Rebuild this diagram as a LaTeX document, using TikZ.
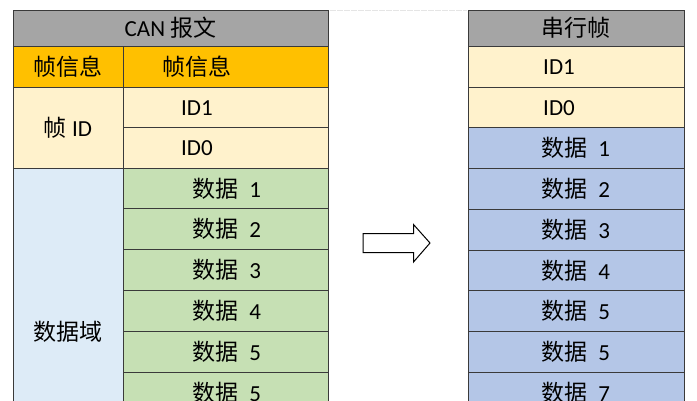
\documentclass[tikz,border=0pt]{standalone}
\usepackage{fontspec}
\setmainfont{Carlito}
\newfontfamily\cjk{Noto Sans CJK SC}
\definecolor{hdr}{HTML}{A5A5A5}
\definecolor{org}{HTML}{FFC000}
\definecolor{lyel}{HTML}{FFF2CC}
\definecolor{lblue}{HTML}{DDEBF7}
\definecolor{lgreen}{HTML}{C6E0B4}
\definecolor{mblue}{HTML}{B4C6E7}
\definecolor{edge}{HTML}{3A3A3A}
\tikzset{
  cell/.style={draw=edge, line width=0.7pt},
  txt/.style={font=\fontsize{23}{26}\selectfont, inner sep=0pt, anchor=center},
  txtl/.style={font=\fontsize{23}{26}\selectfont, inner sep=0pt, anchor=west},
}
\begin{document}
\begin{tikzpicture}[x=1pt,y=-1pt]
\useasboundingbox (0,0) rectangle (697,400);
\clip (0,0) rectangle (697,400);
% faint top line
\draw[black!10, line width=1pt, dash pattern=on 6pt off 1pt] (330,10) -- (467,10);
% ---------- left table ----------
\filldraw[cell, fill=hdr] (13,10) rectangle (328,46);
\filldraw[cell, fill=org] (13,46) rectangle (123,87);
\filldraw[cell, fill=org] (123,46) rectangle (328,87);
\filldraw[cell, fill=lyel] (13,87) rectangle (123,168);
\filldraw[cell, fill=lyel] (123,87) rectangle (328,127.5);
\filldraw[cell, fill=lyel] (123,127.5) rectangle (328,168);
\filldraw[cell, fill=lblue] (13,168) rectangle (123,496);
\foreach \i in {0,...,5} {
  \filldraw[cell, fill=lgreen] (123,{168+\i*40.8}) rectangle (328,{168+(\i+1)*40.8});
}
\node[txt] (lh) at (170.5,28) {CAN {\cjk 报文}};
\node[txt] (lf1) at (68,67) {\cjk 帧信息};
\node[txtl] (lf2) at (162,67) {\cjk 帧信息};
\node[txt] (lid) at (68,128) {{\cjk 帧} ID};
\node[txtl] (lid1) at (181,108) {ID1};
\node[txtl] (lid0) at (181,148.5) {ID0};
\node[txt] (ldom) at (68,332) {\cjk 数据域};
\foreach \t [count=\i from 0] in {1,2,3,4,5,5} {
  \node[txt] (ld\i) at (227,{188.4+\i*40.8}) {{\cjk 数据}\hspace{0.45em}\t};
}
% ---------- right table ----------
\filldraw[cell, fill=hdr] (468,10) rectangle (684,46);
\filldraw[cell, fill=lyel] (468,46) rectangle (684,87);
\filldraw[cell, fill=lyel] (468,87) rectangle (684,127.5);
\foreach \i in {0,...,6} {
  \filldraw[cell, fill=mblue] (468,{127.5+\i*40.8}) rectangle (684,{127.5+(\i+1)*40.8});
}
\node[txt] (rh) at (576,28) {\cjk 串行帧};
\node[txtl] (rid1) at (543,67) {ID1};
\node[txtl] (rid0) at (543,108) {ID0};
\foreach \t [count=\i from 0] in {1,2,3,4,5,5,7} {
  \node[txt] (rd\i) at (576,{147.9+\i*40.8}) {{\cjk 数据}\hspace{0.45em}\t};
}
% ---------- block arrow ----------
\draw[line width=1pt, black] (363,233.5) -- (413.5,233.5) -- (413.5,224.5) -- (430,243) -- (413.5,262) -- (413.5,252.5) -- (363,252.5) -- cycle;
\end{tikzpicture}
\end{document}
